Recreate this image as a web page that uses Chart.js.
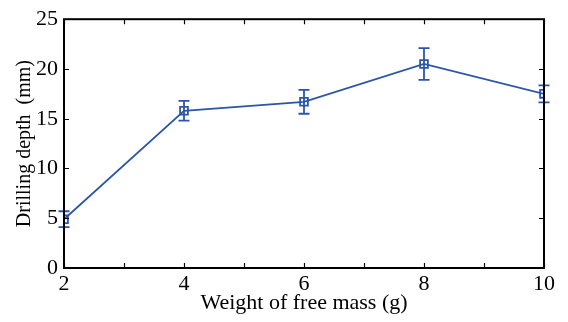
<!DOCTYPE html>
<html>
<head>
<meta charset="utf-8">
<script src="https://cdn.jsdelivr.net/npm/chart.js@4.4.0/dist/chart.umd.min.js"></script>
<style>
  html, body { margin: 0; padding: 0; background: #fff; }
  #wrap { width: 568px; height: 322px; }
</style>
</head>
<body>
<div id="wrap"><canvas id="depthChart" width="568" height="322"></canvas></div>
<script>
// Drilling depth vs weight of free mass, with error bars

const massValues = [2, 4, 6, 8, 10];
const depthValues = [4.9, 15.8, 16.7, 20.5, 17.5];
const depthErrors = [0.8, 1.0, 1.2, 1.6, 0.85];
const xTicks = [2, 3, 4, 5, 6, 7, 8, 9, 10];
const yTicks = [0, 5, 10, 15, 20, 25];

const lineColor = '#2B56A8';
const serif = '"Liberation Serif", "DejaVu Serif", serif';

// error bars drawn from the data through the chart scales
const errorBars = {
    id: 'errorBars',
    afterDatasetsDraw(chart) {
        const ctx = chart.ctx;
        const xs = chart.scales.x, ys = chart.scales.y;
        ctx.save();
        ctx.strokeStyle = lineColor;
        ctx.lineWidth = 1.8;
        massValues.forEach((m, i) => {
            const px = xs.getPixelForValue(m);
            const top = ys.getPixelForValue(depthValues[i] + depthErrors[i]);
            const bot = ys.getPixelForValue(depthValues[i] - depthErrors[i]);
            ctx.beginPath();
            ctx.moveTo(px, top); ctx.lineTo(px, bot);
            ctx.moveTo(px - 5.5, top); ctx.lineTo(px + 5.5, top);
            ctx.moveTo(px - 5.5, bot); ctx.lineTo(px + 5.5, bot);
            ctx.stroke();
        });
        ctx.restore();
    }
};

// box frame with inward ticks on all four sides
const frame = {
    id: 'frame',
    afterDraw(chart) {
        const ctx = chart.ctx;
        const a = chart.chartArea;
        const xs = chart.scales.x, ys = chart.scales.y;
        const len = 5;
        ctx.save();
        ctx.strokeStyle = '#000';
        ctx.lineWidth = 1.2;
        ctx.beginPath();
        xTicks.forEach(v => {
            const px = Math.round(xs.getPixelForValue(v)) + 0.5;
            ctx.moveTo(px, a.bottom); ctx.lineTo(px, a.bottom - len);
            ctx.moveTo(px, a.top); ctx.lineTo(px, a.top + len);
        });
        yTicks.forEach(v => {
            const py = Math.round(ys.getPixelForValue(v)) + 0.5;
            ctx.moveTo(a.left, py); ctx.lineTo(a.left + len, py);
            ctx.moveTo(a.right, py); ctx.lineTo(a.right - len, py);
        });
        ctx.stroke();
        ctx.lineWidth = 2;
        ctx.strokeRect(a.left, a.top, a.right - a.left, a.bottom - a.top);
        ctx.restore();
    }
};

new Chart(document.getElementById('depthChart').getContext('2d'), {
    type: 'line',
    data: {
        datasets: [{
            label: 'Drilling depth',
            data: massValues.map((m, i) => ({ x: m, y: depthValues[i] })),
            borderColor: lineColor,
            borderWidth: 1.8,
            pointStyle: 'rect',
            pointRadius: 5.5,
            pointBorderWidth: 1.8,
            pointBorderColor: lineColor,
            pointBackgroundColor: 'rgba(0,0,0,0)',
            tension: 0,
            fill: false
        }]
    },
    options: {
        responsive: false,
        animation: false,
        layout: { padding: { left: 0, top: 15, right: 24, bottom: 0 } },
        plugins: {
            legend: { display: false },
            tooltip: { enabled: false }
        },
        scales: {
            x: {
                type: 'linear',
                min: 2,
                max: 10,
                afterBuildTicks: s => { s.ticks = xTicks.map(v => ({ value: v })); },
                afterFit: s => { s.height = 54; },
                grid: { display: false, drawTicks: false },
                border: { display: false },
                ticks: {
                    autoSkip: false,
                    maxRotation: 0,
                    padding: 3,
                    color: '#000',
                    font: { family: serif, size: 22 },
                    callback: v => (v % 2 === 0 ? String(v) : '')
                },
                title: {
                    display: true,
                    text: 'Weight of free mass (g)',
                    color: '#000',
                    font: { family: serif, size: 22 },
                    padding: { top: 0, bottom: 6 }
                }
            },
            y: {
                min: 0,
                max: 25,
                afterBuildTicks: s => { s.ticks = yTicks.map(v => ({ value: v })); },
                afterFit: s => { s.width = 64; },
                grid: { display: false, drawTicks: false },
                border: { display: false },
                ticks: {
                    padding: 6,
                    color: '#000',
                    font: { family: serif, size: 22 }
                },
                title: {
                    display: true,
                    text: 'Drilling depth  (mm)',
                    color: '#000',
                    font: { family: serif, size: 20 },
                    padding: { top: 13, bottom: 0 }
                }
            }
        }
    },
    plugins: [errorBars, frame]
});
</script>
</body>
</html>
